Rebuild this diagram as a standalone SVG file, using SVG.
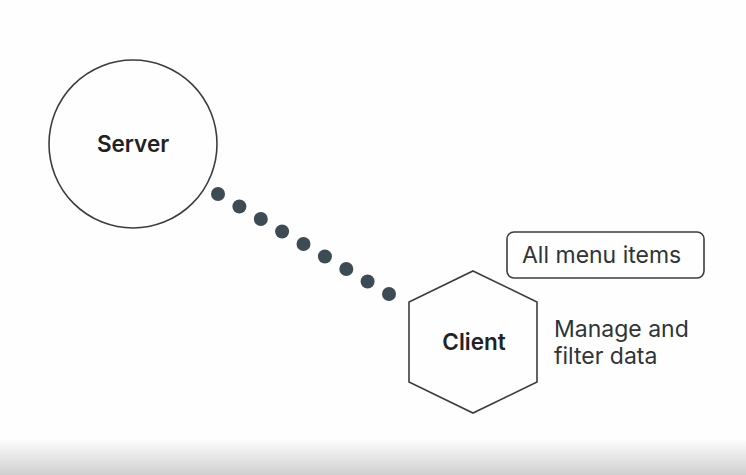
<svg xmlns="http://www.w3.org/2000/svg" width="746" height="475" viewBox="0 0 746 475">
<defs>
<linearGradient id="fade" x1="0" y1="0" x2="0" y2="1">
<stop offset="0" stop-color="#ffffff"/>
<stop offset="1" stop-color="#cfcfcf"/>
</linearGradient>
<style>
.shape{fill:none;stroke:#3a3d40;stroke-width:1.6}
.lbl{font-family:Inter,"Noto Sans",sans-serif;font-size:22.5px;font-weight:600;fill:#1f2326;text-anchor:middle}
.txt{font-family:Inter,"Noto Sans",sans-serif;font-size:23px;font-weight:400;fill:#2f3438}
.dot{fill:#3d4b55}
</style>
</defs>
<rect width="746" height="475" fill="#fefefe"/>
<rect x="0" y="438" width="746" height="37" fill="url(#fade)"/>
<g id="connectors">
<circle class="dot" cx="218" cy="194" r="7"/>
<circle class="dot" cx="239.4" cy="206.5" r="7"/>
<circle class="dot" cx="260.8" cy="219" r="7"/>
<circle class="dot" cx="282.1" cy="231.5" r="7"/>
<circle class="dot" cx="303.5" cy="244" r="7"/>
<circle class="dot" cx="324.9" cy="256.5" r="7"/>
<circle class="dot" cx="346.3" cy="269" r="7"/>
<circle class="dot" cx="367.6" cy="281.5" r="7"/>
<circle class="dot" cx="389" cy="294" r="7"/>
</g>
<g id="server">
<circle class="shape" cx="133" cy="144" r="84"/>
<text class="lbl" x="133" y="152">Server</text>
</g>
<g id="client">
<polygon class="shape" points="473,271 537,302 537,382 473,413 409,382 409,302"/>
<text class="lbl" x="474" y="350">Client</text>
</g>
<g id="all-menu-items">
<rect class="shape" x="507" y="232" width="197" height="46" rx="7"/>
<text class="txt" x="522" y="263">All menu items</text>
</g>
<g id="manage-note">
<text class="txt" x="554" y="337">Manage and</text>
<text class="txt" x="554" y="364">filter data</text>
</g>
</svg>
